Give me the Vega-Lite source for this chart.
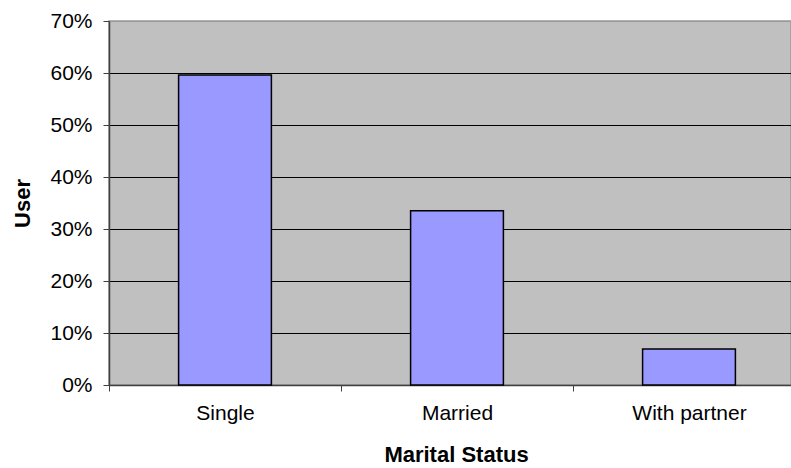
{
  "$schema": "https://vega.github.io/schema/vega-lite/v6.json",
  "autosize": "none",
  "width": 682,
  "height": 364,
  "padding": {"left": 109, "top": 21, "right": 0, "bottom": 83},
  "background": "white",
  "config": {
    "font": "Liberation Sans",
    "view": {"fill": "#C0C0C0", "stroke": "#999999", "strokeWidth": 1.5}
  },
  "data": {
    "values": [
      {"status": "Single", "share": 0.596},
      {"status": "Married", "share": 0.335},
      {"status": "With partner", "share": 0.069}
    ]
  },
  "mark": {"type": "bar", "width": {"band": 0.4}, "fill": "#9999FF", "stroke": "black", "strokeWidth": 1.5},
  "encoding": {
    "x": {
      "field": "status",
      "type": "nominal",
      "sort": null,
      "scale": {"range": [0, 696], "paddingInner": 0, "paddingOuter": 0},
      "axis": {
        "title": "Marital Status",
        "titleFontSize": 22,
        "titleFontWeight": "bold",
        "titleColor": "black",
        "titlePadding": 21,
        "titleX": 347,
        "labelAngle": 0,
        "labelFontSize": 21,
        "labelColor": "black",
        "labelPadding": 11,
        "tickBand": "extent",
        "tickSize": 6,
        "tickColor": "#404040",
        "domainColor": "#404040",
        "domainWidth": 1.5,
        "grid": false
      }
    },
    "y": {
      "field": "share",
      "type": "quantitative",
      "scale": {"domain": [0, 0.7], "nice": false},
      "axis": {
        "title": "User",
        "titleFontSize": 22,
        "titleFontWeight": "bold",
        "titleColor": "black",
        "titlePadding": 15,
        "values": [0, 0.1, 0.2, 0.3, 0.4, 0.5, 0.6, 0.7],
        "format": ".0%",
        "labelFontSize": 21,
        "labelColor": "black",
        "labelPadding": 11,
        "tickSize": 6,
        "tickColor": "#404040",
        "domainColor": "#404040",
        "domainWidth": 1.5,
        "grid": true,
        "gridColor": {"condition": {"test": "datum.value >= 0.7", "value": "#999999"}, "value": "black"},
        "gridOpacity": 1,
        "gridWidth": 1
      }
    }
  }
}
